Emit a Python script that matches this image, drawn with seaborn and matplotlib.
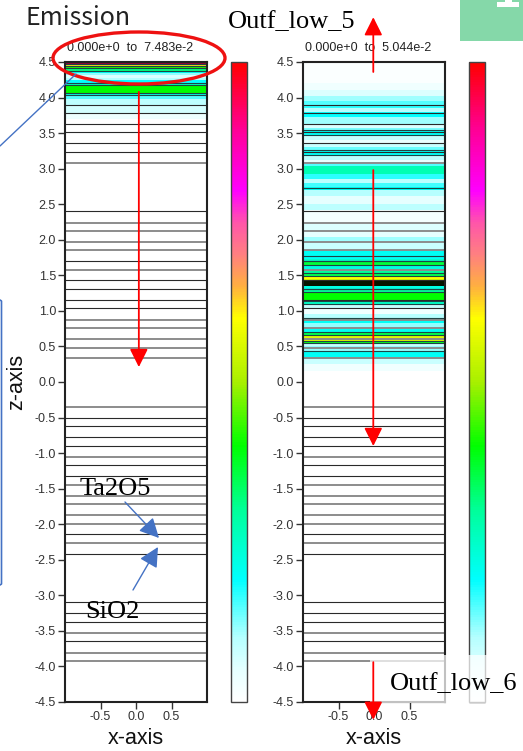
import numpy as np
import matplotlib
matplotlib.use("Agg")
import matplotlib.pyplot as plt
import seaborn as sns
from matplotlib.colors import LinearSegmentedColormap
from matplotlib.patches import Ellipse, Rectangle, FancyArrowPatch
from matplotlib.lines import Line2D

# ---------------- data ----------------
left_vmax = 7.483e-2
right_vmax = 5.044e-2
left_range_text = "0.000e+0  to  7.483e-2"
right_range_text = "0.000e+0  to  5.044e-2"

# field bands (z edges top -> bottom) and relative intensity of each band
left_edges = [4.50, 4.47, 4.44, 4.41, 4.38, 4.35, 4.32, 4.28, 4.24, 4.20, 4.17,
              4.07, 4.03, 3.98, 3.90, 3.78, 3.70, -4.50]
left_levels = [0.93, 0.62, 0.42, 0.32, 0.20, 0.12, 0.06, 0.10, 0.19, 0.26,
               0.40, 0.22, 0.15, 0.09, 0.07, 0.035, 0.0]

right_edges = [4.50, 4.20, 4.10, 4.02, 3.95, 3.90, 3.85, 3.79, 3.72, 3.63,
               3.57, 3.54, 3.47, 3.40, 3.36, 3.30, 3.26, 3.19, 3.12, 3.07,
               3.04, 2.92, 2.86, 2.80, 2.74, 2.70, 2.62, 2.50, 2.42, 2.24,
               2.13, 2.04, 1.97, 1.86, 1.73, 1.70, 1.64, 1.58, 1.53, 1.49,
               1.45, 1.43, 1.35, 1.31, 1.27, 1.14, 1.10, 1.02, 0.95, 0.90,
               0.83, 0.76, 0.70, 0.66, 0.58, 0.55, 0.50, 0.44, 0.33, 0.25,
               0.15, -4.50]
right_levels = [0.01, 0.03, 0.06, 0.11, 0.15, 0.17, 0.10, 0.19, 0.11, 0.06,
                0.13, 0.20, 0.08, 0.04, 0.08, 0.14, 0.20, 0.09, 0.04, 0.15,
                0.27, 0.17, 0.09, 0.16, 0.20, 0.10, 0.05, 0.09, 0.02, 0.06,
                0.05, 0.11, 0.08, 0.20, 0.24, 0.36, 0.22, 0.30, 0.35, 0.60,
                0.55, 0.45, 0.22, 0.30, 0.40, 0.25, 0.08, 0.03, 0.10, 0.20,
                0.12, 0.20, 0.35, 0.56, 0.38, 0.08, 0.12, 0.20, 0.08, 0.03,
                0.0]
assert len(right_edges) == len(right_levels) + 1
assert len(left_edges) == len(left_levels) + 1

# dense-contour (dark) bands
left_dark_band = (4.47, 4.50)
right_dark_band = (1.35, 1.43)

# layer interfaces of the stack
interfaces_dark = [3.895, 3.78, 3.624, 3.511, 3.357, 3.238, 2.404, 1.697, 1.430,
                   1.303, 1.148, 1.036, -0.511, -0.624, -0.779, -0.905, -1.172,
                   -1.327, -2.143, -2.420, -3.095, -3.254, -3.380, -3.648]
interfaces_light = [3.084, 2.240, 2.127, 1.964, 1.856, 1.575, 0.876, 0.764, 0.609,
                    0.482, 0.334, -0.348, -1.052, -1.445, -1.600, -1.712, -1.876,
                    -1.993, -2.265, -3.531, -3.808, -3.921]
left_contours = [4.47, 4.44, 4.41, 4.38, 4.20, 4.17, 4.07, 4.03]
right_contours = [3.54, 3.47, 3.26, 3.19, 2.73, 1.777, 1.70, 1.64, 1.53, 1.49,
                  1.31, 1.27, 1.14, 1.10, 0.90, 0.70, 0.66, 0.58, 0.55, 0.44]

y_ticks = [4.5, 4.0, 3.5, 3.0, 2.5, 2.0, 1.5, 1.0, 0.5, 0.0, -0.5, -1.0, -1.5,
           -2.0, -2.5, -3.0, -3.5, -4.0, -4.5]
x_ticks = [-0.5, 0.0, 0.5]

# ---------------- style ----------------
sns.set_theme(style="ticks")
plt.rcParams['font.family'] = ['Liberation Sans', 'DejaVu Sans']
plt.rcParams['axes.unicode_minus'] = False

W, H = 523, 751
fig = plt.figure(figsize=(W / 100, H / 100), dpi=100)
fig.patch.set_facecolor("white")

def fx(x):
    return x / W

def fy(y):
    return 1 - y / H

cmap = LinearSegmentedColormap.from_list("emission", [
    (0.00, "#ffffff"), (0.05, "#e4ffff"), (0.10, "#b4ffff"), (0.19, "#00ffff"),
    (0.30, "#00ff99"), (0.40, "#00ff00"), (0.50, "#a8f000"), (0.60, "#ffff00"),
    (0.65, "#ffb040"), (0.70, "#ff8080"), (0.75, "#ff55aa"), (0.80, "#ff00ff"),
    (0.90, "#ff0090"), (1.00, "#ff0000")])

ax_box_y = fy(702)
ax_h = 640 / H
axL = fig.add_axes([fx(65), ax_box_y, 142 / W, ax_h])
axR = fig.add_axes([fx(303), ax_box_y, 142 / W, ax_h])
caxL = fig.add_axes([fx(231), ax_box_y, 16 / W, ax_h])
caxR = fig.add_axes([fx(469), ax_box_y, 16 / W, ax_h])

def draw_panel(ax, cax, edges, levels, vmax, dark_band, dark_alpha, contours, range_text):
    vals = np.array(levels)[:, None] * vmax
    mesh = ax.pcolormesh([-1, 1], edges, vals, cmap=cmap, vmin=0, vmax=vmax,
                         shading="flat", zorder=1)
    ax.axhspan(dark_band[0], dark_band[1], color="black", alpha=dark_alpha, lw=0, zorder=2)
    ax.hlines(interfaces_light, -1, 1, colors="#8c8c8c", linewidths=1.4, zorder=3)
    ax.hlines(interfaces_dark, -1, 1, colors="#2a2a2a", linewidths=0.8, zorder=3)
    ax.hlines(contours, -1, 1, colors="#1d4545", linewidths=0.8, zorder=3)
    ax.set_xlim(-1, 1)
    ax.set_ylim(-4.5, 4.5)
    ax.set_yticks(y_ticks, [f"{t:.1f}" for t in y_ticks])
    ax.set_xticks(x_ticks, [f"{t:.1f}" for t in x_ticks])
    ax.tick_params(axis="both", length=5, width=1, color="#333333",
                   labelsize=9, labelcolor="#333333", pad=1.5, direction="out")
    for s in ax.spines.values():
        s.set_color("#222222")
        s.set_linewidth(1.5)
        s.set_zorder(5)
    ax.set_xlabel("x-axis", fontsize=15.5, color="#111111")
    ax.xaxis.set_label_coords(0.5, -0.057)
    ax.xaxis.label.set_va("center")
    ax.text(0.46, 1.012, range_text, transform=ax.transAxes, ha="center",
            va="bottom", fontsize=9, color="#222222")
    cb = fig.colorbar(mesh, cax=cax, ticks=[])
    cb.outline.set_edgecolor("#444444")
    cb.outline.set_linewidth(1.0)
    return mesh

draw_panel(axL, caxL, left_edges, left_levels, left_vmax, left_dark_band, 0.42,
           left_contours, left_range_text)
draw_panel(axR, caxR, right_edges, right_levels, right_vmax, right_dark_band, 0.92,
           right_contours, right_range_text)

axL.set_ylabel("z-axis", fontsize=15.5, color="#111111")
axL.yaxis.set_label_coords(-0.34, 0.5)
axL.yaxis.label.set_va("center")

# ---------------- slide decorations ----------------
fig.text(fx(25), fy(25), "Emission", fontsize=18, color="#222222",
         family=["Noto Sans CJK JP", "DejaVu Sans"], va="baseline", ha="left")
serif = ["Liberation Serif", "DejaVu Serif"]
fig.text(fx(228), fy(28), "Outf_low_5", fontsize=19, family=serif,
         color="black", va="baseline", ha="left")
fig.text(fx(80), fy(495), "Ta2O5", fontsize=19, family=serif, color="black",
         va="baseline", ha="left")
fig.text(fx(85), fy(618), "SiO2", fontsize=19, family=serif, color="black",
         va="baseline", ha="left")

# green page-number box
fig.add_artist(Rectangle((fx(460), fy(41)), 63 / W, 41 / H, transform=fig.transFigure,
                         facecolor="#85d8a9", edgecolor="none", zorder=4))
fig.add_artist(Rectangle((fx(497), fy(7)), 22 / W, 5 / H, transform=fig.transFigure,
                         facecolor="white", edgecolor="none", zorder=5))
fig.add_artist(Rectangle((fx(505), fy(2)), 7 / W, 2 / H, transform=fig.transFigure,
                         facecolor="white", edgecolor="none", zorder=5))

# semi-transparent label box
fig.add_artist(Rectangle((fx(370), fy(703)), 153 / W, 48 / H, transform=fig.transFigure,
                         facecolor="white", alpha=0.72, edgecolor="none", zorder=6))
fig.text(fx(390), fy(690), "Outf_low_6", fontsize=19, family=serif, color="black",
         va="baseline", ha="left", zorder=7)

# red ellipse
fig.add_artist(Ellipse((fx(139), fy(58)), 172 / W, 52 / H, transform=fig.transFigure,
                       facecolor="none", edgecolor="#ee1111", lw=2.4, zorder=8))

# blue call-out lines
blue = "#4472c4"
fig.add_artist(Line2D([fx(0), fx(76)], [fy(146), fy(74)], transform=fig.transFigure,
                      color=blue, lw=1.0, zorder=8))
fig.add_artist(Line2D([fx(0), fx(1.5), fx(1.5), fx(0)], [fy(300), fy(301), fy(584), fy(585)],
                      transform=fig.transFigure, color=blue, lw=1.2, zorder=8))
for (x0, y0), (x1, y1) in [((125, 502), (159, 538)), ((133, 590), (158, 547))]:
    fig.add_artist(FancyArrowPatch((fx(x0), fy(y0)), (fx(x1), fy(y1)),
                                   transform=fig.transFigure,
                                   arrowstyle="-|>,head_length=1.2,head_width=0.6",
                                   mutation_scale=10, color=blue, lw=1.0,
                                   shrinkA=0, shrinkB=0, zorder=8))

# red direction arrows (data coordinates of each panel)
red_arrows = [(axL, (0.04, 4.08), (0.04, 0.21)),
              (axR, (-0.01, 4.36), (-0.01, 5.13)),
              (axR, (-0.01, 2.98), (-0.01, -0.90)),
              (axR, (-0.01, -3.94), (-0.01, -4.75))]
for ax, a, b in red_arrows:
    fig.add_artist(FancyArrowPatch(a, b, transform=ax.transData,
                                   arrowstyle="-|>,head_length=1.1,head_width=0.55",
                                   mutation_scale=10, color="#ff0000", lw=1.3,
                                   shrinkA=0, shrinkB=0, zorder=9))

fig.savefig("out.png", dpi=100)
